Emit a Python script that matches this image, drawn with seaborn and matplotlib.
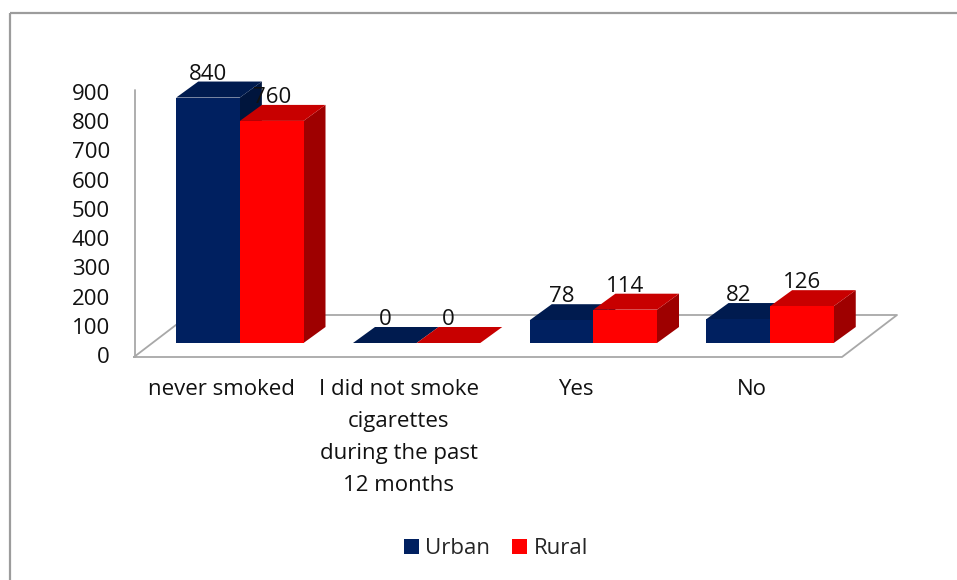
import matplotlib
matplotlib.use("Agg")
import matplotlib.pyplot as plt
import pandas as pd
import seaborn as sns
from matplotlib.lines import Line2D
from matplotlib.patches import Patch, Polygon, Rectangle
from matplotlib.transforms import Affine2D

# ---- data -------------------------------------------------------------
categories = [
    "never smoked",
    "I did not smoke\ncigarettes\nduring the past\n12 months",
    "Yes",
    "No",
]
series = ["Urban", "Rural"]
urban = [840, 0, 78, 82]
rural = [760, 0, 114, 126]
y_ticks = [0, 100, 200, 300, 400, 500, 600, 700, 800, 900]

front_colors = {"Urban": "#002060", "Rural": "#FF0000"}
top_colors = {"Urban": "#001B4F", "Rural": "#C80000"}
side_colors = {"Urban": "#00153D", "Rural": "#9E0000"}

df = pd.DataFrame({
    "category": categories * 2,
    "area": ["Urban"] * len(urban) + ["Rural"] * len(rural),
    "count": urban + rural,
})

# ---- figure -----------------------------------------------------------
sns.set_theme(style="white")
plt.rcParams["font.family"] = ["Open Sans", "DejaVu Sans"]
FS = 16

W, H, DPI = 957, 580, 100
fig = plt.figure(figsize=(W / DPI, H / DPI), dpi=DPI)
fig.patch.set_facecolor("white")
# pixel coordinates measured from the top-left corner of the canvas
px = Affine2D().scale(1 / DPI, -1 / DPI).translate(0, H / DPI) + fig.dpi_scale_trans


def fig_box(left, top, right, bottom):
    return [left / W, 1 - bottom / H, (right - left) / W, (bottom - top) / H]


# outer chart frame
fig.patches.append(Rectangle((10, 13), 1000, 700, transform=px, fill=False,
                             edgecolor="#9C9C9C", linewidth=1.6, clip_on=False))

# value scale (labels only) and the plotting area holding the columns
ax_scale = fig.add_axes(fig_box(135, 92, 150, 355))
ax = fig.add_axes(fig_box(151.5, 80, 858.5, 343))

ax_scale.set_ylim(0, 900)
ax_scale.set_yticks(y_ticks)
ax_scale.set_yticklabels([str(t) for t in y_ticks], fontsize=FS, color="#111111")
ax_scale.tick_params(axis="y", length=0, pad=18)
ax_scale.set_xticks([])
for s in ax_scale.spines.values():
    s.set_visible(False)
ax_scale.patch.set_alpha(0)

sns.barplot(data=df, x="category", y="count", hue="area", hue_order=series,
            order=categories, palette=front_colors, width=0.72, saturation=1,
            linewidth=0, legend=False, ax=ax)
ax.set_xlim(-0.5, len(categories) - 0.5)
ax.set_ylim(0, 900)
ax.axis("off")

# 3-D walls: vertical axis edge and the floor
wall = dict(color="#A8A8A8", linewidth=1.3, transform=px, clip_on=False, zorder=0.5)
ax.add_line(Line2D([135, 135], [90, 357], **wall))
ax.add_line(Line2D([134, 842, 897, 189, 134], [357, 357, 315, 315, 357], **wall))

# depth of the columns, converted to data units
p0 = ax.transData.transform((0, 0))
p1 = ax.transData.transform((1, 100))
dx = 22 / (p1[0] - p0[0])
dy = 16 / ((p1[1] - p0[1]) / 100)

for j, (name, cont) in enumerate(zip(series, ax.containers)):
    for bar in cont.patches:
        x0, w, h = bar.get_x(), bar.get_width(), bar.get_height()
        x1 = x0 + w
        bar.set_zorder(3 + 2 * j)
        side = Polygon([(x1, 0), (x1 + dx, dy), (x1 + dx, h + dy), (x1, h)],
                       closed=True, facecolor=side_colors[name], edgecolor="none",
                       zorder=2 + 2 * j)
        top = Polygon([(x0, h), (x1, h), (x1 + dx, h + dy), (x0 + dx, h + dy)],
                      closed=True, facecolor=top_colors[name], edgecolor="none",
                      zorder=2 + 2 * j)
        ax.add_patch(side)
        ax.add_patch(top)
        ax.annotate(f"{h:.0f}", (x0 + w / 2, h + dy), textcoords="offset pixels",
                    xytext=(0, 2), ha="center", va="baseline", fontsize=FS,
                    color="#111111", annotation_clip=False, zorder=10)

# category labels sit on the front edge of the floor
for i, cat in enumerate(categories):
    ax.annotate(cat, (i, 0), textcoords="offset pixels", xytext=(-18, -36),
                ha="center", va="top", fontsize=FS, color="#111111",
                linespacing=1.68, annotation_clip=False)

handles = [Patch(facecolor=front_colors[s], edgecolor="none") for s in series]
fig.legend(handles, series, loc="center", bbox_to_anchor=(496 / W, 1 - 549 / H),
           ncol=2, frameon=False, fontsize=FS, handlelength=0.65, handleheight=0.65,
           handletextpad=0.3, columnspacing=1.0)

fig.savefig("out.png", dpi=DPI, facecolor="white")
